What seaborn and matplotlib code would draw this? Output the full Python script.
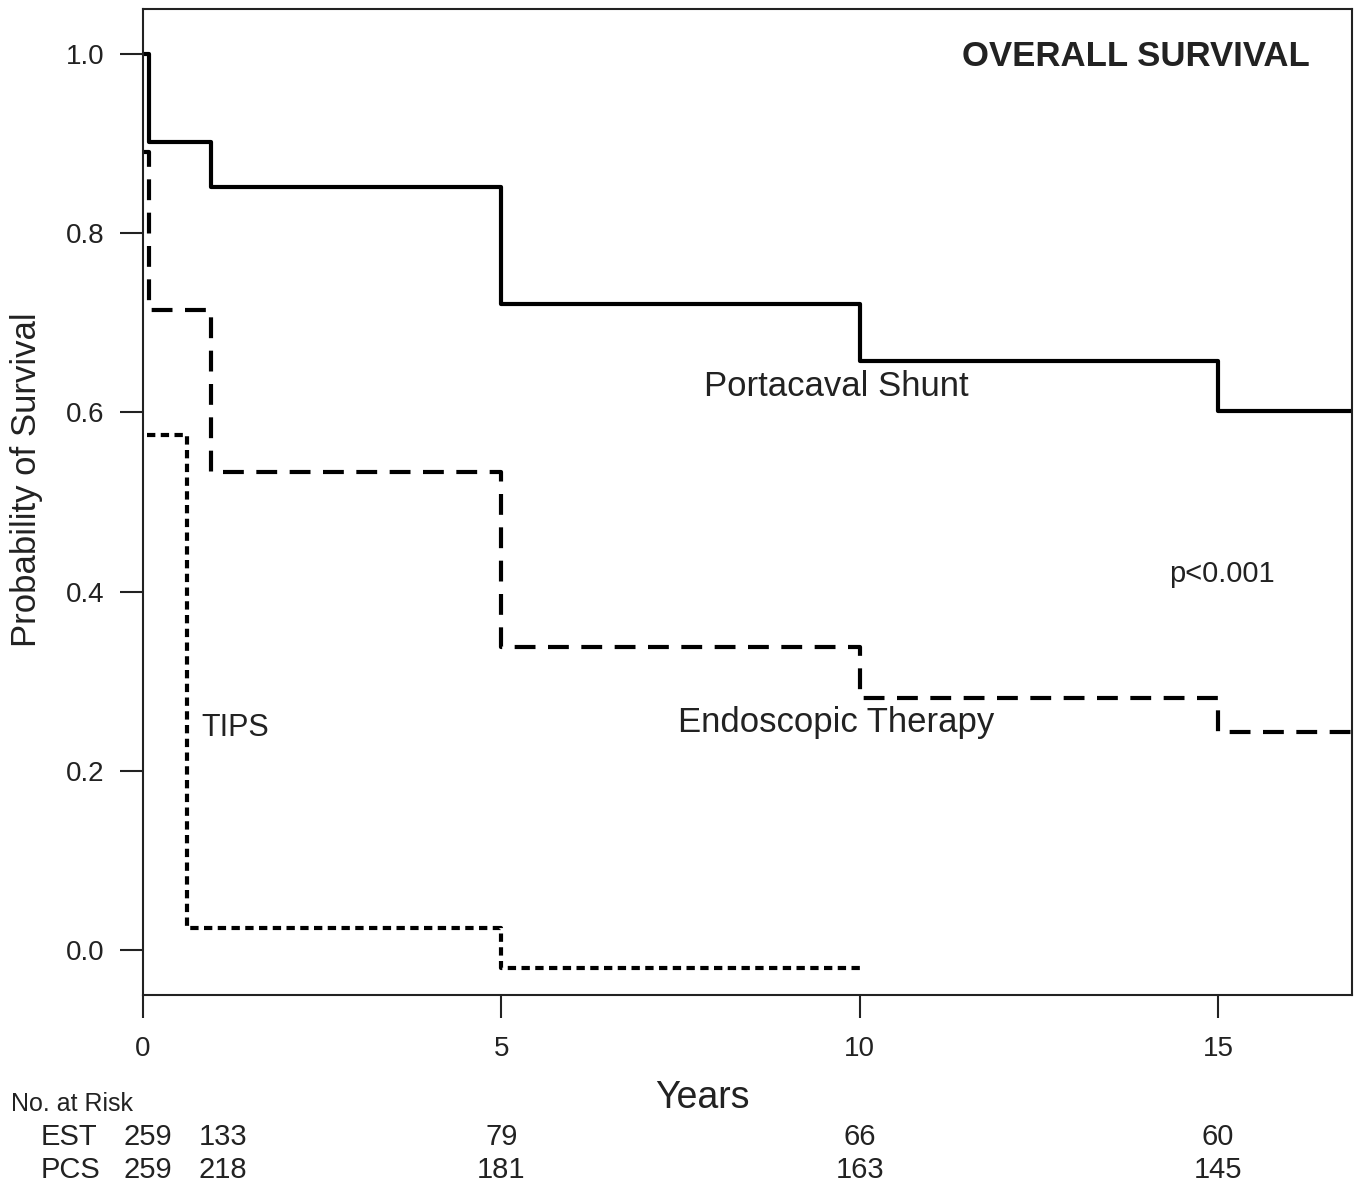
import numpy as np
import pandas as pd
import matplotlib
matplotlib.use("Agg")
import matplotlib.pyplot as plt
import matplotlib.transforms as mtransforms
import seaborn as sns

# ---- data ----
pcs_t = [0.0, 0.08, 0.95, 5.0, 10.0, 15.0, 16.87]
pcs_s = [1.0, 0.902, 0.851, 0.721, 0.657, 0.601, 0.601]

est_t = [0.0, 0.08, 0.95, 5.0, 10.0, 15.0, 16.87]
est_s = [0.89, 0.714, 0.533, 0.338, 0.281, 0.243, 0.243]

tips_t = [0.05, 0.61, 5.0, 10.0]
tips_s = [0.575, 0.025, -0.020, -0.020]

group_names = ["Portacaval Shunt", "Endoscopic Therapy", "TIPS"]

risk_times = [0, 1, 5, 10, 15]
risk_est = ["259", "133", "79", "66", "60"]
risk_pcs = ["259", "218", "181", "163", "145"]

x_ticks = [0, 5, 10, 15]
y_ticks = [0.0, 0.2, 0.4, 0.6, 0.8, 1.0]

df = pd.concat([
    pd.DataFrame({"t": pcs_t, "s": pcs_s, "g": group_names[0]}),
    pd.DataFrame({"t": est_t, "s": est_s, "g": group_names[1]}),
    pd.DataFrame({"t": tips_t, "s": tips_s, "g": group_names[2]}),
], ignore_index=True)

sns.set_theme(style="white")
plt.rcParams["font.family"] = ["Liberation Sans", "DejaVu Sans"]

fig = plt.figure(figsize=(13.58, 11.89), dpi=100)
ax = fig.add_axes([143 / 1358, 1 - 995 / 1189, (1352 - 143) / 1358, (995 - 9) / 1189])

sns.lineplot(
    data=df, x="t", y="s", hue="g", style="g",
    palette={g: "black" for g in group_names},
    dashes={group_names[0]: "", group_names[1]: (5, 3), group_names[2]: (2, 1.3)},
    estimator=None, sort=False, drawstyle="steps-post",
    linewidth=3.0, legend=False, ax=ax,
)

ax.set_xlim(0, 16.87)
ax.set_ylim(-0.05, 1.05)
ax.set_xticks(x_ticks)
ax.set_yticks(y_ticks)
ax.set_yticklabels([f"{v:.1f}" for v in y_ticks])
ax.tick_params(axis="both", which="major", direction="out", length=16.5, width=1.5,
               color="#222222", labelsize=20, labelcolor="#222222", left=True, bottom=True)
ax.tick_params(axis="y", pad=11)
ax.tick_params(axis="x", pad=13)
for sp in ax.spines.values():
    sp.set_visible(True)
    sp.set_color("#222222")
    sp.set_linewidth(1.5)

ax.set_ylabel("")
ax.set_xlabel("")
fig.text(27 / 1358, 1 - 480 / 1189, "Probability of Survival", rotation=90, ha="center", va="center",
         fontsize=25, color="#222222")

# annotations
ax.text(0.965, 0.952, "OVERALL SURVIVAL", transform=ax.transAxes, ha="right", va="center",
        fontsize=25, fontweight="bold", color="#222222")
ax.text(9.67, 0.629, group_names[0], ha="center", va="center", fontsize=25, color="#222222")
ax.text(9.67, 0.254, group_names[1], ha="center", va="center", fontsize=25, color="#222222")
ax.text(0.82, 0.248, group_names[2], ha="left", va="center", fontsize=22, color="#222222")
ax.text(15.06, 0.420, "p<0.001", ha="center", va="center", fontsize=21, color="#222222")

# x label and number at risk table
fig.text(702 / 1358, 1 - 1098 / 1189, "Years", ha="center", va="center", fontsize=27, color="#222222")
fig.text(11 / 1358, 1 - 1104 / 1189, "No. at Risk", ha="left", va="center", fontsize=18, color="#222222")
trans = mtransforms.blended_transform_factory(ax.transData, fig.transFigure)
fig.text(41 / 1358, 1 - 1137 / 1189, "EST", ha="left", va="center", fontsize=21, color="#222222")
fig.text(41 / 1358, 1 - 1170 / 1189, "PCS", ha="left", va="center", fontsize=21, color="#222222")
offsets = [0.07, 0.12, 0, 0, 0]
for t, e, p, o in zip(risk_times, risk_est, risk_pcs, offsets):
    ax.text(t + o, 1 - 1137 / 1189, e, transform=trans, ha="center", va="center",
            fontsize=21, color="#222222", clip_on=False)
    ax.text(t + o, 1 - 1170 / 1189, p, transform=trans, ha="center", va="center",
            fontsize=21, color="#222222", clip_on=False)

fig.savefig("out.png", dpi=100)
